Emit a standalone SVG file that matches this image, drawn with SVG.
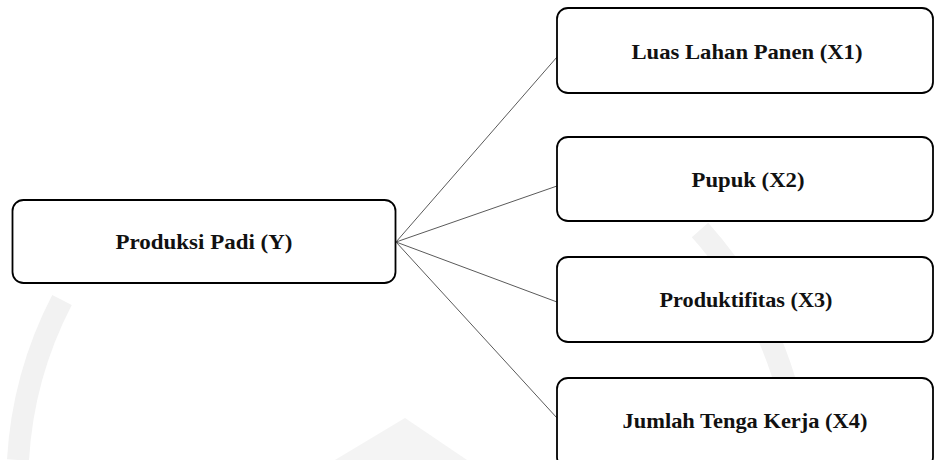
<svg xmlns="http://www.w3.org/2000/svg" width="934" height="460" viewBox="0 0 934 460">
  <style>
    .wm { fill: none; stroke: #f2f2f2; stroke-width: 22; }
    .box { fill: #ffffff; stroke: #000000; stroke-width: 1.8; }
    .lbl { font-family: "Liberation Serif", "Times New Roman", serif; font-weight: bold; font-size: 21px; fill: #111111; text-anchor: middle; }
    .conn line { stroke: #5a5a5a; stroke-width: 1; }
  </style>
  <rect width="934" height="460" fill="#ffffff"/>
  <g id="watermark">
    <path class="wm" d="M 18 460 A 397 397 0 0 1 62 300"/>
    <path class="wm" d="M 700 230 A 397 397 0 0 1 800 460"/>
    <path d="M 335 460 L 405 418 L 467 460 Z" fill="#f4f4f4"/>
  </g>
  <g id="connectors" class="conn">
    <line x1="396" y1="242" x2="557" y2="57"/>
    <line x1="396" y1="242" x2="557" y2="186"/>
    <line x1="396" y1="242" x2="557" y2="302"/>
    <line x1="396" y1="242" x2="557" y2="418"/>
  </g>
  <g id="node-y">
    <rect class="box" x="12.5" y="200" width="383" height="83" rx="11"/>
    <text class="lbl" x="204" y="249" textLength="177" lengthAdjust="spacingAndGlyphs">Produksi Padi (Y)</text>
  </g>
  <g id="node-x1">
    <rect class="box" x="557" y="8" width="376" height="85" rx="11"/>
    <text class="lbl" x="747" y="59" textLength="231" lengthAdjust="spacingAndGlyphs">Luas Lahan Panen (X1)</text>
  </g>
  <g id="node-x2">
    <rect class="box" x="557" y="137" width="376" height="84" rx="11"/>
    <text class="lbl" x="748" y="187" textLength="113" lengthAdjust="spacingAndGlyphs">Pupuk (X2)</text>
  </g>
  <g id="node-x3">
    <rect class="box" x="557" y="257" width="376" height="85" rx="11"/>
    <text class="lbl" x="746" y="307" textLength="173" lengthAdjust="spacingAndGlyphs">Produktifitas (X3)</text>
  </g>
  <g id="node-x4">
    <rect class="box" x="557" y="378" width="376" height="90" rx="11"/>
    <text class="lbl" x="745" y="428" textLength="245" lengthAdjust="spacingAndGlyphs">Jumlah Tenga Kerja (X4)</text>
  </g>
</svg>
